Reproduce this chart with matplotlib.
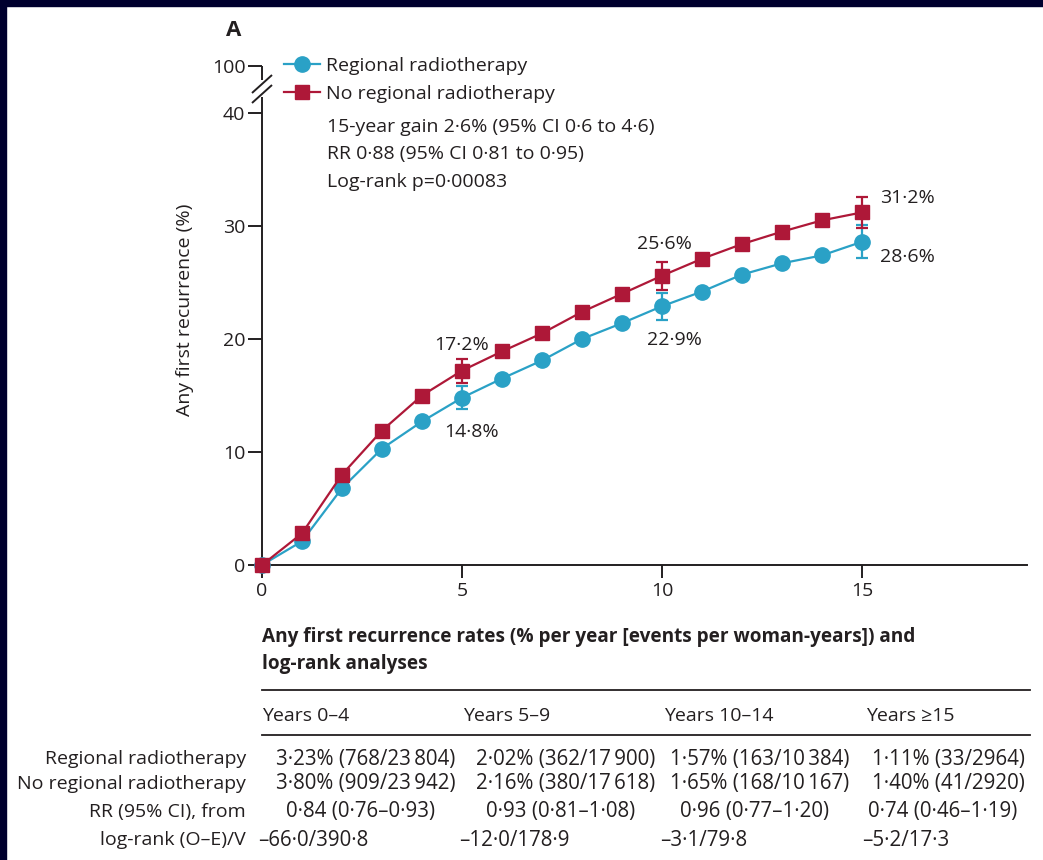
import matplotlib
matplotlib.use("Agg")
import matplotlib.pyplot as plt
from matplotlib.lines import Line2D

plt.rcParams['font.family'] = ['Open Sans', 'DejaVu Sans']

# ---------------- data ----------------
years = list(range(0, 16))
regional = [0, 2.1, 6.8, 10.3, 12.7, 14.8, 16.5, 18.1, 20.0, 21.4, 22.9,
            24.2, 25.7, 26.7, 27.4, 28.6]
no_regional = [0, 2.8, 8.0, 11.9, 15.0, 17.2, 18.9, 20.5, 22.4, 24.0, 25.6,
               27.1, 28.4, 29.5, 30.5, 31.2]
err_years = [5, 10, 15]
regional_err = [1.0, 1.2, 1.45]
no_regional_err = [1.05, 1.25, 1.4]
regional_labels = ['14·8%', '22·9%', '28·6%']
no_regional_labels = ['17·2%', '25·6%', '31·2%']

yticks = [0, 10, 20, 30, 40]
ytick_labels = ['0', '10', '20', '30', '40']
top_label = '100'
xticks = [0, 5, 10, 15]

stats_lines = ['15-year gain 2·6% (95% CI 0·6 to 4·6)',
               'RR 0·88 (95% CI 0·81 to 0·95)',
               'Log-rank p=0·00083']

table_title = ['Any first recurrence rates (% per year [events per woman-years]) and',
               'log-rank analyses']
periods = ['Years 0–4', 'Years 5–9', 'Years 10–14', 'Years ≥15']
row_labels = ['Regional radiotherapy', 'No regional radiotherapy',
              'RR (95% CI), from', 'log-rank (O–E)/V']
regional_rates = ['3·23% (768/23\u2009804)', '2·02% (362/17\u2009900)',
                  '1·57% (163/10\u2009384)', '1·11% (33/2964)']
no_regional_rates = ['3·80% (909/23\u2009942)', '2·16% (380/17\u2009618)',
                     '1·65% (168/10\u2009167)', '1·40% (41/2920)']
rr_ci = ['0·84 (0·76–0·93)', '0·93 (0·81–1·08)', '0·96 (0·77–1·20)',
         '0·74 (0·46–1·19)']
oe_v = ['–66·0/390·8', '–12·0/178·9', '–3·1/79·8', '–5·2/17·3']

# ---------------- style ----------------
BLUE = '#2aa1c6'
RED = '#ae1838'
TXT = '#231f20'
W, H = 1043, 860
fs = 14
fs_num = 14.8


def fx(x):
    return x / W


def fy(y):
    return 1 - y / H


fig = plt.figure(figsize=(W / 100, H / 100), dpi=100)
fig.patch.set_facecolor('white')

# navy frame on top & left
fig.patches.append(plt.Rectangle((0, fy(6)), 1, 1 - fy(6), transform=fig.transFigure,
                                 color='#00002e', zorder=10))
fig.patches.append(plt.Rectangle((0, 0), fx(6), 1, transform=fig.transFigure,
                                 color='#00002e', zorder=10))

ax_l, ax_r, ax_b, ax_t = 262, 1027, 565, 66
ax = fig.add_axes([fx(ax_l), fy(ax_b), fx(ax_r) - fx(ax_l), fy(ax_t) - fy(ax_b)])
px_per_unit = (565 - 452) / 10.0
ytop = (ax_b - ax_t) / px_per_unit
xright = (ax_r - ax_l) / 40.0
ax.set_xlim(0, xright)
ax.set_ylim(0, ytop)

ms = 11
ax.plot(years, regional, color=BLUE, lw=1.6, marker='o', ms=ms, clip_on=False, zorder=3)
ax.plot(years, no_regional, color=RED, lw=1.6, marker='s', ms=ms - 0.5, clip_on=False, zorder=4)
ax.errorbar(err_years, [regional[y] for y in err_years], yerr=regional_err, fmt='none',
            ecolor=BLUE, elinewidth=1.6, capsize=4.5, capthick=1.6, zorder=3)
ax.errorbar(err_years, [no_regional[y] for y in err_years], yerr=no_regional_err, fmt='none',
            ecolor=RED, elinewidth=1.6, capsize=4.5, capthick=1.6, zorder=4)

# point labels
ax.text(5.0, no_regional[5] + 2.3, no_regional_labels[0], ha='center', va='center', fontsize=fs, color=TXT)
ax.text(5.25, regional[5] - 3.0, regional_labels[0], ha='center', va='center', fontsize=fs, color=TXT)
ax.text(10.05, no_regional[10] + 2.8, no_regional_labels[1], ha='center', va='center', fontsize=fs, color=TXT)
ax.text(10.3, regional[10] - 3.0, regional_labels[1], ha='center', va='center', fontsize=fs, color=TXT)
ax.text(15.45, no_regional[15] + 1.3, no_regional_labels[2], ha='left', va='center', fontsize=fs, color=TXT)
ax.text(15.45, regional[15] - 1.3, regional_labels[2], ha='left', va='center', fontsize=fs, color=TXT)

# axes styling
for s in ['top', 'right', 'left']:
    ax.spines[s].set_visible(False)
ax.spines['bottom'].set_color(TXT)
ax.spines['bottom'].set_linewidth(1.4)
ax.set_xticks(xticks)
ax.set_xticklabels([str(x) for x in xticks])
ax.set_yticks(yticks + [ytop])
ax.set_yticklabels(ytick_labels + [top_label])
ax.tick_params(axis='both', colors=TXT, labelsize=fs, width=1.4, length=9, pad=3)
ax.tick_params(axis='y', length=10, pad=2)

# broken left spine
u_break_low = (ax_b - 97) / px_per_unit
u_break_high = (ax_b - 80) / px_per_unit
kw = dict(color=TXT, lw=1.4, clip_on=False, solid_capstyle='butt')
ax.plot([0, 0], [0, u_break_low], **kw)
ax.plot([0, 0], [u_break_high, ytop], **kw)
dx = 10 / 40.0
dy = 9 / px_per_unit
for yc in [(ax_b - 84) / px_per_unit, (ax_b - 94) / px_per_unit]:
    ax.plot([-dx, dx], [yc - dy, yc + dy], **kw)

ax.set_ylabel('Any first recurrence (%)', fontsize=fs, color=TXT, labelpad=13)
ax.yaxis.label.set_position((0, (fy(310) - fy(ax_b)) / (fy(ax_t) - fy(ax_b))))

# legend
handles = [Line2D([], [], color=BLUE, lw=1.6, marker='o', ms=ms),
           Line2D([], [], color=RED, lw=1.6, marker='s', ms=ms - 0.5)]
leg = fig.legend(handles, ['Regional radiotherapy', 'No regional radiotherapy'],
                 loc='upper left', bbox_to_anchor=(fx(284), fy(57)), frameon=False,
                 fontsize=fs, handlelength=1.85, handletextpad=0.3, labelspacing=0.5,
                 borderaxespad=0, borderpad=0)
for t in leg.get_texts():
    t.set_color(TXT)

for i, line in enumerate(stats_lines):
    fig.text(fx(327), fy(127 + 27.5 * i), line, ha='left', va='center', fontsize=fs, color=TXT)

fig.text(fx(226), fy(30), 'A', ha='left', va='center', fontsize=16, fontweight='bold', color=TXT)

# ---------------- table ----------------
fig.text(fx(262), fy(637), table_title[0], ha='left', va='center', fontsize=13.7,
         fontweight='bold', color=TXT)
fig.text(fx(262), fy(664), table_title[1], ha='left', va='center', fontsize=13.7,
         fontweight='bold', color=TXT)
fig.add_artist(Line2D([fx(262), fx(1030)], [fy(690), fy(690)], color=TXT, lw=1.3))
fig.add_artist(Line2D([fx(262), fx(1030)], [fy(735), fy(735)], color=TXT, lw=1.3))

col_left = [262, 463, 664, 866]
col_center = [366, 566, 760, 948]
for i, p in enumerate(periods):
    fig.text(fx(col_left[i]), fy(716), p, ha='left', va='center', fontsize=fs, color=TXT)

row_y = [759, 784, 812, 840]
for lab, yy in zip(row_labels, row_y):
    fig.text(fx(246), fy(yy), lab, ha='right', va='center', fontsize=fs, color=TXT)
for i in range(4):
    fig.text(fx(col_center[i]), fy(row_y[0]), regional_rates[i], ha='center', va='center',
             fontsize=fs_num, color=TXT)
    fig.text(fx(col_center[i]), fy(row_y[1]), no_regional_rates[i], ha='center', va='center',
             fontsize=fs_num, color=TXT)
    fig.text(fx(col_center[i] - 5), fy(row_y[2]), rr_ci[i], ha='center', va='center',
             fontsize=fs_num, color=TXT)
    fig.text(fx(col_left[i] - 4), fy(row_y[3]), oe_v[i], ha='left', va='center',
             fontsize=fs_num, color=TXT)

fig.savefig('out.png', dpi=100)
